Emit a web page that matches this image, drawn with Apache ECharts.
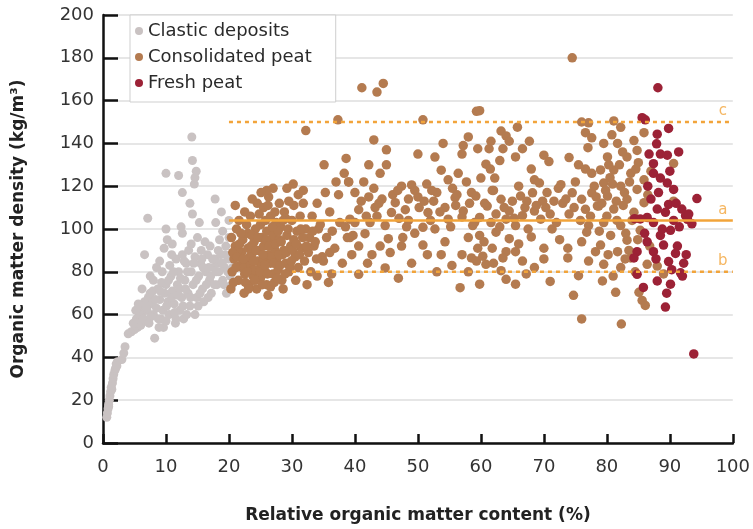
<!DOCTYPE html>
<html>
<head>
<meta charset="utf-8">
<script src="https://cdn.jsdelivr.net/npm/echarts@6/dist/echarts.min.js"></script>
<style>html,body{margin:0;padding:0;background:#fff}#c{width:753px;height:529px}</style>
</head>
<body>
<div id="c"></div>
<script>
var xTicks = [0,10,20,30,40,50,60,70,80,90,100];
var yTicks = [0,20,40,60,80,100,120,140,160,180,200];
var seriesNames = ['Clastic deposits','Consolidated peat','Fresh peat'];

var clastic = [
[0.6,12],[0.7,14],[0.8,16],[0.9,18],[1.0,20],[1.1,22],[1.2,24],[1.3,26],[1.5,28],[1.6,30],[1.7,32],[1.9,34],[2.0,35],[2.1,37],[2.3,38],[2.2,36],[1.4,25],[0.9,17],[3.0,39],[3.3,42],[3.5,45],
[4.0,51],[4.5,52],[5.0,53],[5.5,54],[6.0,55],[4.8,56],[5.3,58],[5.8,60],[6.3,61],[6.0,64],[6.6,66],[7.0,62],[7.2,68],[7.5,70],[7.8,65],[8.2,49],[8.0,60],[8.5,63],[8.7,72],[9.0,67],[9.2,58],[9.5,62],[9.8,70],[10.0,74],[10.3,66],[10.5,60],[10.8,78],[11.0,71],[11.3,65],[11.5,56],[11.8,74],[12.0,80],[12.2,62],[12.5,68],[12.8,58],[13.0,76],[13.2,84],[13.5,70],[13.8,64],[14.0,80],[14.3,74],[14.6,60],[14.9,68],[15.2,78],[15.5,84],[15.8,72],[16.0,66],[16.3,80],[16.6,88],[16.9,76],[17.2,70],[17.5,82],[17.8,86],[18.1,74],[18.4,80],[18.7,88],[19.0,76],[19.3,82],[19.6,70],[19.9,86],[20.2,78],[20.5,74],[6.8,57],[7.6,59],[9.3,75],[10.6,83],[11.6,86],[12.6,88],[13.6,90],[14.6,87],[15.6,90],[17.0,92],[18.5,95],[19.5,92],[20.0,96],[16.2,94],[14.0,93],
[6.6,88],[7.1,105],[9.7,91],[10.2,95],[10.0,100],[12.4,101],[12.6,98],[14.2,107],[15.3,103],[17.9,103],[17.8,114],[12.6,117],[14.5,121],[14.6,124],[14.8,127],[14.2,132],[14.1,143],[10,126],[12,125],[19,99],[20,104],[11,93],[8.5,82],[9,85],[7.5,78],[13.8,112],[18.8,108],[6.2,72],[8.0,76],[12.2,72],[16.8,82],[18.2,84],[15.0,96],
[5.2,62],[5.6,65],[6.4,58],[6.9,63],[7.3,56],[7.9,71],[8.3,67],[8.8,58],[9.1,71],[9.6,54],[10.1,64],[10.4,76],[10.9,68],[11.2,80],[11.4,61],[11.9,69],[12.3,77],[12.7,64],[13.1,72],[13.4,80],[13.9,68],[14.4,84],[14.8,76],[15.1,64],[15.4,70],[15.9,82],[16.4,74],[16.7,68],[17.1,78],[17.4,86],[17.7,74],[18.0,80],[18.3,90],[18.9,84],[19.2,74],[19.8,80],[20.3,88],[20.6,82],[9.4,80],[10.9,88],[12.9,85],[15.7,86],[19.4,88],[13.3,60],[11.6,58],[10.0,57],[8.9,54]
];

var consolidated = [
[20.3,72],[20.5,80],[20.8,86],[21.0,92],[21.2,100],[21.0,111],[21.5,76],[21.8,83],[22.0,89],[22.2,95],[22.4,70],[22.5,79],[22.7,85],[23.0,91],[23.0,98],[23.2,74],[23.4,83],[23.4,106],[23.6,88],[23.8,78],[24.0,94],[24.2,100],[24.4,72],[24.5,85],[24.5,112],[24.7,90],[25.0,77],[25.0,82],[25.0,102],[25.2,96],[25.5,86],[25.5,92],[25.5,110],[25.8,80],[26.0,74],[26.0,99],[26.3,88],[26.3,115],[26.6,84],[26.6,106],[26.6,73],[26.8,94],[27.0,79],[27.0,97],[27.0,119],[27.3,90],[27.5,103],[27.6,86],[27.8,81],[28.0,95],[28.2,101],[28.4,76],[28.5,88],[28.7,90],[28.8,108],[29.0,84],[29.2,97],[29.2,119],[29.5,80],[29.7,82],[29.8,92],[30.0,104],[30.3,95],[30.3,111],[30.5,87],[30.8,99],[31.0,82],[31.3,106],[31.5,91],[31.8,112],[31.8,118],[32.0,85],[32.2,100],[32.2,146],[32.6,89],[32.8,96],[33.0,80],[33.2,106],[33.5,92],[33.7,94],[34.0,112],[34.2,100],[34.5,102],[34.8,87],[35.0,85],[35.1,130],[35.3,117],[35.5,96],[35.8,75],[36.0,89],[36.0,108],[36.4,99],[36.8,91],[37.0,122],[37.3,151],[37.4,116],[37.6,103],[38.0,84],[38.3,126],[38.6,133],[38.8,96],[39.0,122],[39.2,104.6],[39.2,96],[39.5,88],[22.8,102],[21.6,104],[24.8,107],[28.0,112],[26.0,118],[29.5,113],[31,116],[30.2,121],[20.4,96],[21.4,90],[22.6,75],[23.6,97],[27.2,75],[28.6,72],[26.2,69],[20.6,89],[22.1,82],[25.8,104],[24.0,81],[23.3,87],[27.8,99],[29.0,105],[30.6,76],[32.4,74],[34.0,78],[36.3,79],
[20.7,75],[21.1,82],[21.3,87],[21.7,93],[21.9,98],[22.3,86],[22.9,80],[23.1,72],[23.5,92],[23.9,85],[24.1,76],[24.3,90],[24.6,96],[24.9,80],[25.3,74],[25.4,88],[25.7,83],[25.9,95],[26.1,79],[26.4,92],[26.8,87],[26.9,101],[27.1,84],[27.4,93],[27.7,77],[27.9,88],[28.1,83],[28.3,94],[28.9,79],[29.1,89],[29.4,100],[29.9,85],[30.1,90],[30.7,93],[31.2,88],[31.7,96],[32.3,92],[33.3,99],[33.9,86],[31.4,100],[28.6,104],[27.3,108],[26.2,111],[22.5,108],[23.7,114],[25.1,117],
[41.1,166],[43.5,164],[44.5,168],[50.8,151],[59.3,155],[43,141.6],[45,137],[50,135],[54,140],[52.7,133.6],[57,135],[58,143],[57.2,139],[42.2,130],[44,126],[53.7,127.5],[56.4,126],[39,122],[41.4,122],[47.4,120],[49,120.6],[51.4,121],[54.8,123],[57.7,122],[40,117],[42.2,115],[44.3,114],[46.4,112.3],[48.5,114],[50,115],[52.5,113],[55.9,114.6],[58.5,117],[40.6,109],[43.2,110],[45.8,107.7],[48,109],[51.6,107.7],[54.3,110],[57.2,108.4],[40,103],[42.4,103],[44.8,101.6],[48.5,104],[50.8,100.8],[52.7,100],[54.8,104.6],[57,105.6],[59,103],[39.7,97],[41.6,97.8],[45.3,95.5],[47.6,96],[50.8,92.5],[54.3,94],[40.6,92],[42.7,88],[45.6,89],[47.4,92],[53.7,88],[57,88],[58.5,86.5],[55.4,83],[44.8,81.8],[40.6,78.8],[46.9,77],[56.7,72.6],[59.3,85],
[49.5,118],[46,116],[43,119],[55.5,119],[41,113],[53,117],[56,111],[47,105],[43.5,106],[52,104],[49.5,98],[44,92],[58,96],[51.5,88],[42,84],[49,84],[53,80],[38.5,101],[45,130],
[41.8,106],[43.8,112],[46.8,118],[48.2,101],[50.2,110],[51,113],[52.2,118],[53.5,108],[55.2,101],[56.2,116],[58.2,112],
[59.8,155.3],[65.8,147.6],[63.2,145.8],[64,143.5],[61.6,141],[67.7,141],[64.5,141],[59.5,137.5],[61.3,137.5],[63.5,137.5],[66.6,137.5],[65.5,133.7],[70,134.5],[70.8,131.5],[74,133.4],[60.8,130.3],[75.5,130],[77,138],[76,150],[77.1,149.6],[76.6,145],[77.6,142.6],[60,123.8],[62.2,123.8],[68.5,123],[69.3,121.5],[72.7,120.7],[76.6,128],[77.6,126],[59.2,115.4],[63.2,113.9],[65,113],[66.3,115.4],[68.2,116.9],[69.8,113],[74.5,116.9],[76,113.9],[77.6,116.9],[61,110.7],[67,110],[78.7,110.7],[59.8,105.4],[62.4,107],[64.5,108.4],[66.6,106.2],[68.5,108.4],[71,107],[74,107],[76.6,109.2],[58.7,101.6],[61.6,103],[64,104.6],[65.5,101.6],[69.5,104.6],[71.3,100],[77.1,101.6],[59.8,97],[62.4,98.5],[64.5,95.5],[68,96.3],[76.8,98.5],[59.5,91],[61.8,91],[64,89.4],[65.5,89.4],[70,91],[73.8,91],[76,94],[78.2,89.4],[60.3,87.3],[63.5,86.5],[66.6,85],[73.8,86.5],[77.1,85],[63.2,80.5],[67.2,79],[64,76.5],[65.5,74.2],[59.8,74.2],[75.5,78.2],[74.7,69],[60.8,83.5],[76,58],[74.5,180],
[62,118],[66,120],[70.5,117],[73,112],[75,122],[78,120],[72,103],[67.5,100],[63,101],[60.5,94],[66,93],[72.5,95],[70,86],[68.5,82],[62,84],[58,80],[71,75.5],[61.5,128],[68,128],[63,132],
[60.6,112],[61.8,118],[63.7,110],[65.3,105],[67.3,113],[68.8,111],[70.3,110],[71.6,113],[72.3,119],[73.5,114],[74.8,110],[75.8,104],[77.4,106],[78.3,115],
[81.1,150.5],[82.2,147.5],[79.5,140],[81.7,140],[84.3,141.3],[85.9,145],[80.1,133.7],[83.2,133.7],[84.8,136.7],[79,127.6],[81.1,127.6],[83.8,126],[85.9,123],[79.5,121.5],[82.2,120],[84.8,118.5],[80.1,115.4],[83.2,113.9],[85.9,112.3],[78.5,110.8],[81.1,109.3],[84.3,107.8],[79.5,103],[82.2,101.6],[85.3,99.4],[80.6,97],[83.2,94.8],[79,92.5],[81.7,89.4],[83.8,86.5],[86.4,83.5],[79.5,83.5],[82.2,82],[79.3,75.7],[81.4,70.4],[85.1,70.4],[85.6,66.6],[86.1,64.3],[82.3,55.6],[88,82.7],[89,79],[90.6,130.6],[90.6,113],
[80.5,124],[82.8,117],[81.5,113],[84,104],[80,106],[83,98],[86.5,116],[87,127],[82,130],[80.8,144],[83.5,90],[81,78],[84.5,80],[78.8,99],[86.8,92],[85,131],
[79.8,118],[80.9,121],[82.6,111],[83.6,122],[84.6,128],[80.3,130],[82.5,136],[79.2,112],[81.6,104],[84.9,95],[82.9,86],[80.2,88]
];

var fresh = [
[88.1,166],[86.1,151],[89.8,147],[88,144.3],[87.9,139.8],[91.4,136],[86.7,135],[88.5,135],[89.6,134.5],[87.4,130.5],[87.4,126],[88.5,123.8],[89.6,121.5],[90.6,118.5],[94.3,114.2],[88.2,117],[89.8,111.5],[88,109.3],[89.3,107.8],[91.9,109.3],[92.5,106.2],[93.5,102.4],[90.6,104],[87.4,103],[86.4,105.4],[85.3,104.7],[84.4,104.8],[88.5,97],[90.1,99.4],[86.4,94],[89,92.5],[90.9,88.6],[87.4,89.4],[84.8,89.4],[89.8,84.8],[92.2,84],[91.7,79.5],[88,75.7],[90.1,74.2],[85.8,72.7],[89.3,63.5],[93.8,41.6],[85.6,152],[92,78],[84.3,86.5],[84.8,78.8],[91,112],[92.8,104.5],[93,107],[91.5,101],[87,114],[86.5,120],[90,127],[88.8,100],[87.8,86],[91.2,92],[86,98],[90.3,81],[92.6,88],[89.5,70]
];

var refLineA = [[20,104],[100,104]];
var refLineB = [[30,80],[100,80]];
var refLineC = [[20,150],[100,150]];
var refLabels = [[100,150,'c'],[100,104,'a'],[100,80,'b']];

var FONT = 'DejaVu Sans';
var ORANGE = '#f2a43a';
var chart = echarts.init(document.getElementById('c'), null, {renderer:'canvas'});
chart.setOption({
  animation: false,
  grid: {left:103, right:17, top:15, bottom:77, containLabel:false},
  legend: {
    data: seriesNames,
    orient: 'vertical',
    left: 130, top: 15,
    padding: [6,24,9,5],
    itemGap: 6,
    itemTextGap: 9,
    itemWidth: 8, itemHeight: 8,
    icon: 'circle',
    itemStyle: {borderWidth:0, opacity:1},
    backgroundColor: '#fff',
    borderColor: '#cfcfcf', borderWidth: 1,
    textStyle: {fontFamily: FONT, fontSize: 18, color:'#2a2a2a', lineHeight: 20},
    selectedMode: false
  },
  xAxis: {
    type:'value', min:0, max:100, interval:10,
    name:'Relative organic matter content (%)', nameLocation:'middle', nameGap:64,
    nameTextStyle:{fontFamily:FONT, fontWeight:'bold', fontSize:17, color:'#222'},
    axisLine:{show:true, lineStyle:{color:'#111', width:2.5}},
    axisTick:{show:true, inside:true, length:9, lineStyle:{color:'#111', width:2.5}},
    axisLabel:{fontFamily:FONT, fontSize:18, color:'#333', margin:15,
      formatter:function(v){return xTicks.indexOf(v)>=0 ? String(v) : '';}},
    splitLine:{show:false}
  },
  yAxis: {
    type:'value', min:0, max:200, interval:20,
    name:'Organic matter density (kg/m³)', nameLocation:'middle', nameGap:76,
    nameTextStyle:{fontFamily:FONT, fontWeight:'bold', fontSize:17, color:'#222'},
    axisLine:{show:true, lineStyle:{color:'#111', width:2.5}},
    axisTick:{show:true, inside:true, length:15, lineStyle:{color:'#111', width:2.5}},
    axisLabel:{fontFamily:FONT, fontSize:18, color:'#333', margin:9,
      formatter:function(v){return yTicks.indexOf(v)>=0 ? String(v) : '';}},
    splitLine:{show:true, lineStyle:{color:'#dedede', width:1.5}}
  },
  series: [
    {name:seriesNames[0], type:'scatter', data:clastic, symbolSize:9, itemStyle:{color:'#c9c2c2', opacity:1}, z:2},
    {name:seriesNames[1], type:'scatter', data:consolidated, symbolSize:9.5, itemStyle:{color:'#b47b50', opacity:1}, z:3},
    {name:seriesNames[2], type:'scatter', data:fresh, symbolSize:9.5, itemStyle:{color:'#9c2236', opacity:1}, z:4},
    {name:'a', type:'line', data:refLineA, symbol:'none', silent:true, z:5,
      lineStyle:{color:ORANGE, width:2.5, type:'solid'}},
    {name:'b', type:'line', data:refLineB, symbol:'none', silent:true, z:5,
      lineStyle:{color:ORANGE, width:2.5, type:[4,4]}},
    {name:'c', type:'line', data:refLineC, symbol:'none', silent:true, z:5,
      lineStyle:{color:ORANGE, width:2.5, type:[4,4]}},
    {name:'labels', type:'scatter', data:refLabels, symbolSize:0, silent:true, z:6,
      label:{show:true, position:'top', distance:3, offset:[-10,0],
        formatter:function(p){return p.value[2];},
        fontFamily:FONT, fontSize:15, color:ORANGE}}
  ]
});
</script>
</body>
</html>
